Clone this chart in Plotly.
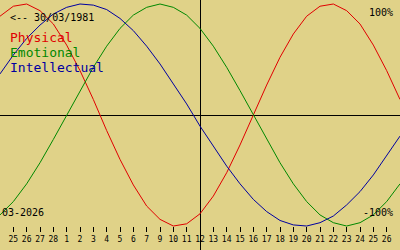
import plotly.graph_objects as go

# Days relative to today (0 = "12", the current day), across the chart
day_offset = list(range(-15, 16))
tick_offset = list(range(-14, 15))
tick_labels = ["25", "26", "27", "28", "1", "2", "3", "4", "5", "6", "7",
               "9", "10", "11", "12", "13", "14", "15", "16", "17", "18",
               "19", "20", "21", "22", "23", "24", "25", "26"]

physical = [89, 98, 100, 94, 82, 63, 40, 14, -14, -40, -63, -82, -94, -100, -98,
            -89, -73, -52, -27, 0, 27, 52, 73, 89, 98, 100, 94, 82, 63, 40, 14]
emotional = [-90, -78, -62, -43, -22, 0, 22, 43, 62, 78, 90, 97, 100, 97, 90,
             78, 62, 43, 22, 0, -22, -43, -62, -78, -90, -97, -100, -97, -90, -78, -62]
intellectual = [37, 54, 69, 81, 91, 97, 100, 99, 95, 87, 76, 62, 46, 28, 10,
                -10, -28, -46, -62, -76, -87, -95, -99, -100, -97, -91, -81, -69, -54, -37, -19]

series_names = ["Physical", "Emotional", "Intellectual"]
series_colors = ["#E00000", "#008800", "#0000A0"]
birth_text = "<-- 30/03/1981"
month_text = "03-2026"

BG = "rgb(224,210,136)"
FONT = "DejaVu Sans Mono"
W, H = 400, 250

fig = go.Figure()
for name, vals, col in zip(series_names, [physical, emotional, intellectual], series_colors):
    fig.add_trace(go.Scatter(x=day_offset, y=vals, mode="lines", name=name,
                             line=dict(color=col, width=1), hoverinfo="skip"))

def px(x):
    return x / W

def py(y):
    return 1 - y / H

anns = [
    dict(text=birth_text, x=px(9), y=py(17), xanchor="left", yanchor="middle",
         font=dict(family=FONT, size=10, color="black")),
    dict(text="100%", x=px(394), y=py(12), xanchor="right", yanchor="middle",
         font=dict(family=FONT, size=10, color="black")),
    dict(text="-100%", x=px(394), y=py(212), xanchor="right", yanchor="middle",
         font=dict(family=FONT, size=10, color="black")),
    dict(text=month_text, x=px(1), y=py(212), xanchor="left", yanchor="middle",
         font=dict(family=FONT, size=10, color="black")),
]
for i, (name, col) in enumerate(zip(series_names, series_colors)):
    anns.append(dict(text=name, x=px(9), y=py(37.5 + 15 * i), xanchor="left", yanchor="middle",
                     font=dict(family=FONT, size=13, color=col)))
for a in anns:
    a.update(xref="paper", yref="paper", showarrow=False, borderpad=0)

fig.update_layout(
    width=W, height=H, margin=dict(l=0, r=0, t=0, b=0),
    paper_bgcolor=BG, plot_bgcolor=BG, showlegend=False,
    annotations=anns,
    xaxis=dict(range=[-15, 15], anchor="free", position=1 - 226 / H, side="bottom",
               tickmode="array", tickvals=tick_offset, ticktext=tick_labels,
               ticks="outside", ticklen=5, tickwidth=1, tickcolor="black",
               showgrid=False, zeroline=True, zerolinecolor="black", zerolinewidth=1,
               showline=False,
               tickfont=dict(family=FONT, size=8, color="black"), fixedrange=True),
    yaxis=dict(range=[-121.6, 103.6], showticklabels=False, ticks="",
               showgrid=False, zeroline=True, zerolinecolor="black", zerolinewidth=1,
               showline=False, fixedrange=True),
)

fig.write_html("out.html", config={"displayModeBar": False})
